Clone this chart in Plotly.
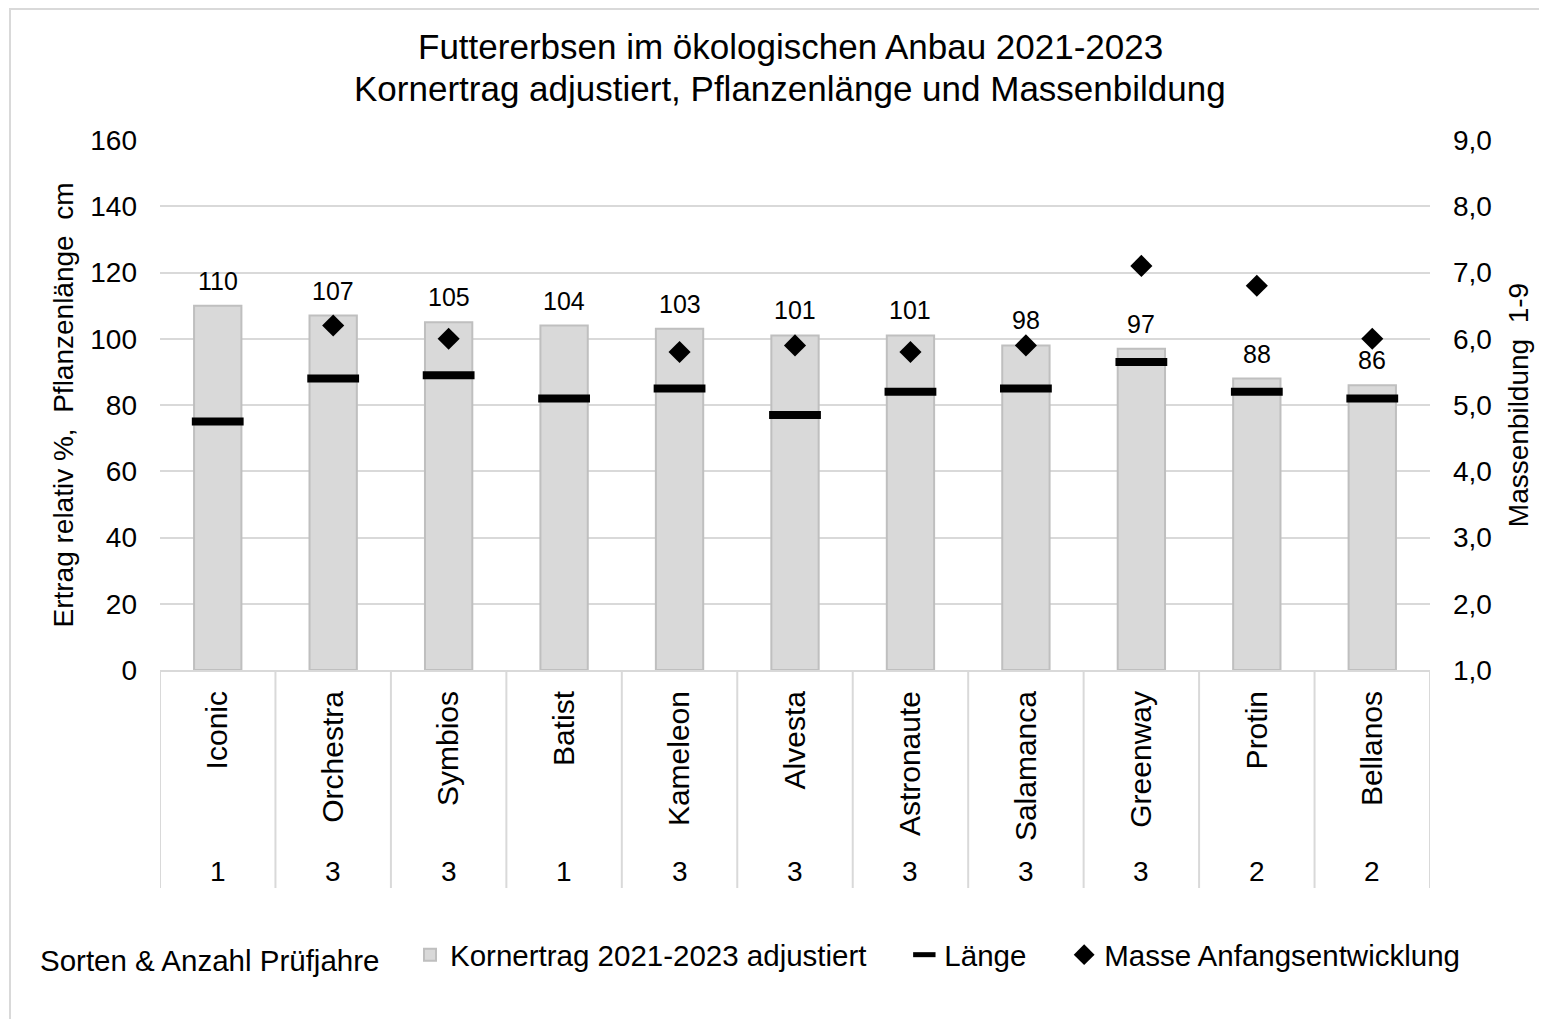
import plotly.graph_objects as go

sorten = ["Iconic", "Orchestra", "Symbios", "Batist", "Kameleon", "Alvesta",
          "Astronaute", "Salamanca", "Greenway", "Protin", "Bellanos"]
pruefjahre = [1, 3, 3, 1, 3, 3, 3, 3, 3, 2, 2]
kornertrag = [110, 107, 105, 104, 103, 101, 101, 98, 97, 88, 86]
laenge = [75, 88, 89, 82, 85, 77, 84, 85, 93, 84, 82]
masse = [None, 6.2, 6.0, None, 5.8, 5.9, 5.8, 5.9, 7.1, 6.8, 6.0]
titel = ["Futtererbsen im ökologischen Anbau 2021-2023",
         "Kornertrag adjustiert, Pflanzenlänge und Massenbildung"]

FONT = "Liberation Sans, Arial, sans-serif"
FS = 28
FL = 29.5
NB = "\u00a0"
xs = list(range(len(sorten)))

# plot-area geometry (pixels in the figure)
L, T, PW, PH = 152, 132, 1270, 530
W, H = 1539, 1011


def px_x(p):
    return (p - 8 - L) / PW


def px_y(p):
    return 1 - (p - 8 - T) / PH


fig = go.Figure()
fig.add_trace(go.Bar(
    x=xs, y=kornertrag, width=0.41, name="Kornertrag 2021-2023 adjustiert" + NB * 4,
    marker=dict(color="#d9d9d9", line=dict(color="#bfbfbf", width=2)),
))
fig.add_trace(go.Scatter(
    x=xs, y=laenge, mode="markers", name="Länge" + NB * 4,
    marker=dict(symbol="line-ew-open", size=37, color="#000000",
                line=dict(color="#000000", width=8)),
))
fig.add_trace(go.Scatter(
    x=xs, y=masse, mode="markers", name="Masse Anfangsentwicklung", yaxis="y2",
    marker=dict(symbol="diamond", size=17, color="#000000"),
))

# bar value labels
for i, v in enumerate(kornertrag):
    fig.add_annotation(x=i, xref="x", y=v, yref="y", text=str(v), showarrow=False,
                       yshift=25, font=dict(size=25, family=FONT, color="#000000"))

# category separators (multi-level axis look)
for i in range(len(sorten) + 1):
    fig.add_shape(type="line", xref="x", yref="paper", x0=i - 0.5, x1=i - 0.5,
                  y0=0, y1=px_y(888), line=dict(color="#d9d9d9", width=2))

# counts of test years
for i, n in enumerate(pruefjahre):
    fig.add_annotation(x=i, xref="x", y=px_y(871), yref="paper", text=str(n),
                       showarrow=False, yanchor="middle",
                       font=dict(size=FS, family=FONT, color="#000000"))

fig.add_annotation(x=px_x(38), xref="paper", y=px_y(960), yref="paper",
                   text="Sorten & Anzahl Prüfjahre",
                   showarrow=False, xanchor="left", yanchor="middle",
                   font=dict(size=FL, family=FONT, color="#000000"))

# title (two lines, tight spacing)
for line, yc in zip(titel, [47, 88]):
    fig.add_annotation(x=px_x(790), xref="paper", y=px_y(yc), yref="paper", text=line,
                       showarrow=False, xanchor="center", yanchor="middle",
                       font=dict(size=35, family=FONT, color="#000000"))

# outer frame
fig.add_shape(type="rect", xref="paper", yref="paper", x0=px_x(10), x1=1.3,
              y0=-0.8, y1=px_y(9), line=dict(color="#d9d9d9", width=2), layer="below")

fig.update_layout(
    width=W, height=H,
    margin=dict(l=L, r=W - L - PW, t=T, b=H - T - PH, autoexpand=False),
    paper_bgcolor="white", plot_bgcolor="white",
    separators=",.",
    font=dict(family=FONT, size=FS, color="#000000"),
    showlegend=True,
    legend=dict(orientation="h", x=px_x(410), xanchor="left", y=px_y(955), yanchor="middle",
                font=dict(size=FL, family=FONT), traceorder="normal",
                itemsizing="trace", bgcolor="rgba(0,0,0,0)"),
    xaxis=dict(range=[-0.5, 10.5], tickmode="array", tickvals=xs, ticktext=sorten,
               tickangle=-90, ticks="", showgrid=False, zeroline=False,
               showline=True, linecolor="#d9d9d9", linewidth=2,
               tickfont=dict(size=30, family=FONT), ticklabelstandoff=7),
    yaxis=dict(range=[0, 160], dtick=20, showgrid=True, gridcolor="#d9d9d9", gridwidth=2,
               zeroline=False, showline=False, ticks="", ticklabelstandoff=22,
               tickfont=dict(size=FS, family=FONT),
               title=dict(text="Ertrag relativ %,  Pflanzenlänge  cm", standoff=8,
                          font=dict(size=FS, family=FONT))),
    yaxis2=dict(range=[1, 9], dtick=1, tickformat=".1f", overlaying="y", side="right",
                showgrid=False, zeroline=False, showline=False, ticks="", ticklabelstandoff=22,
                tickfont=dict(size=FS, family=FONT),
                title=dict(text="Massenbildung  1-9", standoff=17,
                           font=dict(size=FS, family=FONT))),
)

fig.write_html("out.html")
